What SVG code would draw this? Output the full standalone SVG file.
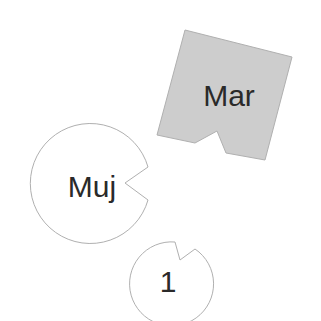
<svg xmlns="http://www.w3.org/2000/svg" width="321" height="321" viewBox="0 0 321 321">
<style>
.sh{stroke:#b0b0b0;stroke-width:1}
.t{font-family:"Liberation Sans",Arial,sans-serif;font-size:30px;fill:#2a2a2a;text-anchor:middle}
</style>
<rect width="321" height="321" fill="#ffffff"/>
<g id="mar">
<polygon class="sh" fill="#cdcdcd" points="185,30 292,57 265,160 226,153 217,131 195,143 157,135"/>
<text class="t" x="229" y="106">Mar</text>
</g>
<g id="muj">
<path class="sh" fill="#ffffff" d="M148,167 A60,60 0 1 0 148,200 L125,183 Z"/>
<text class="t" x="92" y="197">Muj</text>
</g>
<g id="n1">
<path class="sh" fill="#ffffff" d="M175,242 A42,42 0 1 0 195,249 L180,260 Z"/>
<text class="t" x="168" y="292">1</text>
</g>
<g id="connectors"/>
</svg>
